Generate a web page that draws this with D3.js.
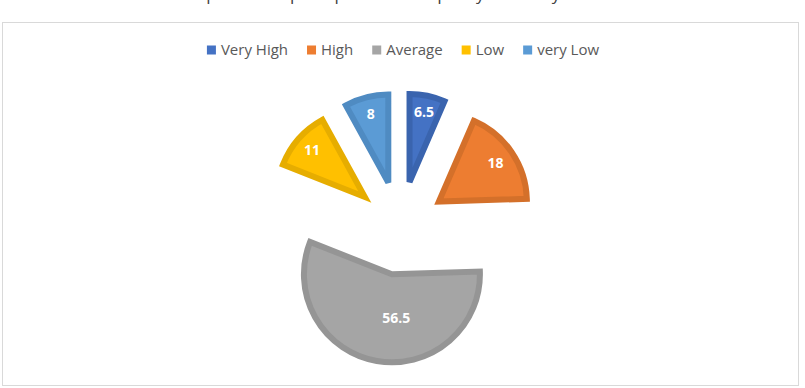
<!DOCTYPE html>
<html>
<head>
<meta charset="utf-8">
<script src="https://cdn.jsdelivr.net/npm/d3@7"></script>
<style>
  body { margin: 0; background: #fff; }
  svg { display: block; font-family: "Open Sans", "Noto Sans", sans-serif; }
</style>
</head>
<body>
<div id="chart"></div>
<script>
const categories = ['Very High', 'High', 'Average', 'Low', 'very Low'];
const values = [6.5, 18, 56.5, 11, 8];
const fills = ['#4472C4', '#ED7D31', '#A5A5A5', '#FFC000', '#5B9BD5'];
const strokes = ['#3A64AE', '#D4702A', '#959595', '#E6AD00', '#4F8BC2'];
const title = "Respondents' perception of the quality of library services";

const width = 805, height = 388;
const cx = 400, cy = 228;
const radius = 88;
const explode = 47;

var svg = d3.select('#chart').append('svg')
	.attr('width', width)
	.attr('height', height)

// title, mostly cut off above the frame (as in the source picture)
svg.append('text')
	.attr('x', 403)
	.attr('y', 0)
	.attr('text-anchor', 'middle')
	.style('font-size', '17px')
	.style('fill', '#404040')
	.text(title)

// chart frame
svg.append('rect')
	.attr('x', 2.5)
	.attr('y', 22.5)
	.attr('width', 796)
	.attr('height', 363)
	.style('fill', 'none')
	.style('stroke', '#d9d9d9')

// legend
var legend = svg.append('g')
var lx = 0;
categories.forEach(function(c, i) {
	var item = legend.append('g').attr('transform', 'translate(' + lx + ',0)')
	item.append('rect')
		.attr('x', 0).attr('y', -9.5)
		.attr('width', 9).attr('height', 9)
		.style('fill', fills[i])
	var t = item.append('text')
		.attr('x', 14).attr('y', 0)
		.style('font-size', '15px')
		.style('fill', '#595959')
		.text(c)
	lx += 14 + t.node().getComputedTextLength() + 19;
})
var legendWidth = lx - 19;
legend.attr('transform', 'translate(' + (403 - legendWidth / 2) + ',55)')

// pie
var pie = d3.pie().sort(null).value(d => d)
var arcs = pie(values)
var arc = d3.arc().innerRadius(0).outerRadius(radius)

var slices = svg.append('g')
	.attr('transform', 'translate(' + cx + ',' + cy + ')')
	.selectAll('g')
	.data(arcs)
	.join('g')
	.attr('transform', function(d) {
		var a = (d.startAngle + d.endAngle) / 2;
		return 'translate(' + (explode * Math.sin(a)) + ',' + (-explode * Math.cos(a)) + ')';
	})

slices.append('path')
	.attr('d', arc)
	.style('fill', (d, i) => fills[i])
	.style('stroke', (d, i) => strokes[i])
	.style('stroke-width', 6)
	.style('stroke-linejoin', 'miter')

// labels near the sector centroid, pushed a little outward
slices.append('text')
	.attr('transform', function(d) {
		var a = (d.startAngle + d.endAngle) / 2;
		var h = (d.endAngle - d.startAngle) / 2;
		var r = 2 * (radius + 3) * Math.sin(h) / (3 * h) + 11;
		var x = r * Math.sin(a), y = -r * Math.cos(a);
		// wide slices: excel centres the label over the visible shape
		if (h > Math.PI / 2) x += 12;
		return 'translate(' + x + ',' + y + ')';
	})
	.attr('text-anchor', 'middle')
	.attr('dy', '0.35em')
	.style('font-size', '14px')
	.style('font-weight', 'bold')
	.style('fill', '#ffffff')
	.text(d => d.data)
</script>
</body>
</html>
